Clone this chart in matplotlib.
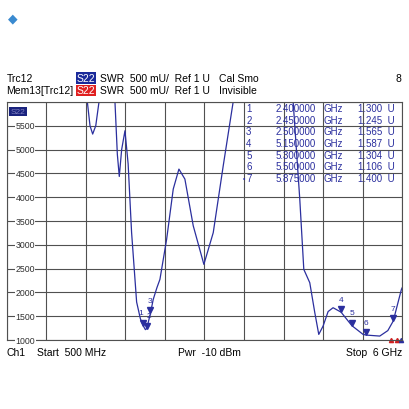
"""VNA S22 SWR trace screenshot."""
import numpy as np
import matplotlib
matplotlib.use("Agg")
import matplotlib.pyplot as plt

plt.rcParams["font.family"] = ["Liberation Sans", "DejaVu Sans"]

BLUE = "#2b2f9e"
# trace segments (GHz, mU); segments leave the top of the screen
seg1_f = [1.60, 1.623, 1.66, 1.697, 1.74, 1.785, 1.80]
seg1_v = [6300, 6000, 5500, 5325, 5500, 6000, 6300]
seg2_f = [1.99, 2.007, 2.04, 2.067, 2.10, 2.146, 2.19, 2.238, 2.308, 2.36, 2.40,
          2.43, 2.45, 2.50, 2.539, 2.59, 2.632, 2.725, 2.817, 2.896, 2.979,
          3.095, 3.243, 3.373, 3.512, 3.650, 3.67]
seg2_v = [6300, 6000, 4900, 4435, 5000, 5395, 4700, 3260, 1800, 1450, 1300,
          1220, 1245, 1565, 1855, 2100, 2275, 3115, 4170, 4590, 4380,
          3400, 2590, 3255, 4660, 6000, 6300]
seg3_f = [4.47, 4.484, 4.576, 4.632, 4.715, 4.785, 4.840, 4.900, 4.97, 5.039,
          5.15, 5.30, 5.456, 5.50, 5.688, 5.80, 5.875, 5.989, 6.0]
seg3_v = [6300, 6000, 3960, 2485, 2205, 1575, 1120, 1295, 1600, 1680,
          1587, 1304, 1120, 1106, 1085, 1200, 1400, 2065, 2100]

mk_num = [1, 2, 3, 4, 5, 6, 7]
mk_f = [2.40, 2.45, 2.50, 5.15, 5.30, 5.50, 5.875]
mk_v = [1.300, 1.245, 1.565, 1.587, 1.304, 1.106, 1.400]
yticks = [1000, 1500, 2000, 2500, 3000, 3500, 4000, 4500, 5000, 5500]

fig = plt.figure(figsize=(4.1, 4.1), dpi=100)
ax = fig.add_axes([0.016, 0.168, 0.965, 0.581])
ax.set_xlim(0.5, 6.0)
ax.set_ylim(1000, 6000)
ax.set_xticks(np.linspace(0.5, 6.0, 11))
ax.set_yticks(np.linspace(1000, 6000, 11))
ax.grid(True, color="#505050", lw=0.8)
ax.tick_params(length=0, labelbottom=False, labelleft=False)
for s in ax.spines.values():
    s.set_color("#505050")

for f, v in [(seg1_f, seg1_v), (seg2_f, seg2_v), (seg3_f, seg3_v)]:
    ax.plot(f, v, color=BLUE, lw=0.9, clip_on=True)

for n, f, v in zip(mk_num, mk_f, mk_v):
    ax.plot(f, v * 1000 + 60, marker="v", color=BLUE, ms=5, ls="none")
    dx = {1: -0.04, 2: 0.03}.get(n, 0)
    ax.text(f + dx, v * 1000 + 200, str(n), color=BLUE, fontsize=6,
            ha="center", va="bottom")

for t in yticks:
    ax.text(0.76, t, str(t), fontsize=6.3, color="#303030", ha="center",
            va="center", bbox=dict(fc="white", ec="none", pad=0.3), clip_on=False)
ax.text(0.66, 5800, "S22", fontsize=6, color="#8080c0", ha="center",
        va="center", bbox=dict(fc="#1a237e", ec="none", pad=1))

# marker table
fs_t = 7
for i, (n, f, v) in enumerate(zip(mk_num, mk_f, mk_v)):
    y = 5870 - i * 245
    ax.text(3.83, y, str(n), color=BLUE, fontsize=fs_t, ha="left", va="center")
    if n == 7:
        ax.text(3.82, y, "•", color=BLUE, fontsize=5, ha="right", va="center")
    ax.text(4.80, y, f"{f:.6f}", color=BLUE, fontsize=fs_t, ha="right", va="center")
    ax.text(4.90, y, "GHz", color=BLUE, fontsize=fs_t, ha="left", va="center")
    ax.text(5.90, y, f"{v:.3f}  U", color=BLUE, fontsize=fs_t, ha="right", va="center")

ax.plot([5.84, 5.93], [1000, 1000], marker="^", color="#d02020", ms=3, ls="none",
        clip_on=False)
ax.plot([5.99], [1000], marker="^", color=BLUE, ms=3, ls="none", clip_on=False)

# header
fs = 7.5
fig.text(0.02, 0.945, "◆", color="#3a8ad0", fontsize=9)
fig.text(0.016, 0.800, "Trc12", fontsize=fs)
fig.text(0.016, 0.770, "Mem13[Trc12]", fontsize=fs)
fig.text(0.186, 0.800, "S22", fontsize=fs, color="white",
         bbox=dict(fc="#1a2a9a", ec="none", pad=0.5))
fig.text(0.186, 0.770, "S22", fontsize=fs, color="white",
         bbox=dict(fc="#e02020", ec="none", pad=0.5))
fig.text(0.245, 0.800, "SWR  500 mU/  Ref 1 U", fontsize=fs)
fig.text(0.245, 0.770, "SWR  500 mU/  Ref 1 U", fontsize=fs)
fig.text(0.535, 0.800, "Cal Smo", fontsize=fs)
fig.text(0.535, 0.770, "Invisible", fontsize=fs)
fig.text(0.98, 0.800, "8", fontsize=fs, ha="right")

fig.text(0.016, 0.132, "Ch1", fontsize=fs)
fig.text(0.09, 0.132, "Start  500 MHz", fontsize=fs)
fig.text(0.435, 0.132, "Pwr  -10 dBm", fontsize=fs)
fig.text(0.98, 0.132, "Stop  6 GHz", fontsize=fs, ha="right")

fig.savefig("out.png", dpi=100)
